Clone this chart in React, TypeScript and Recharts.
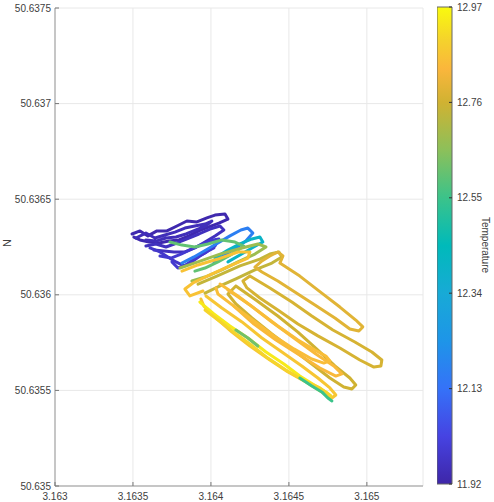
import React from "react";
import {
  ScatterChart,
  Scatter,
  XAxis,
  YAxis,
  CartesianGrid,
  BarChart,
  Bar,
} from "recharts";

// temperature colour scale (parula-like)
const T_MIN = 11.92;
const T_MAX = 12.97;
const COLORBAR_TICKS = [11.92, 12.13, 12.34, 12.55, 12.76, 12.97];
const LON_TICKS = [3.163, 3.1635, 3.164, 3.1645, 3.165];
const LAT_TICKS = [50.635, 50.6355, 50.636, 50.6365, 50.637, 50.6375];

// one entry per pass of the boat: mean temperature, then the positions
const TRACK_TEMP = [
  11.93, 11.95, 11.96, 11.98, 11.99, 12.17, 12.4, 12.6, 12.68, 12.86, 12.74,
  12.79, 12.77, 12.76, 12.84, 12.85, 12.87, 12.94, 12.9, 12.55, 12.62,
];

const TRACK_LON = [
  [3.163494, 3.163545, 3.163596, 3.163654, 3.163718, 3.163782, 3.163846, 3.16391, 3.163974, 3.164026, 3.16409, 3.164109, 3.164051, 3.163987, 3.163923, 3.163859, 3.163795, 3.163731, 3.163667, 3.163603, 3.163545, 3.163506],
  [3.163519, 3.163583, 3.163641, 3.163705, 3.163769, 3.163833, 3.163897, 3.163962, 3.164006, 3.163968, 3.163904, 3.16384, 3.163776, 3.163712, 3.163647, 3.163583],
  [3.163583, 3.163647, 3.163712, 3.163782, 3.163859, 3.163923, 3.163994, 3.164058, 3.164083, 3.164026, 3.163962, 3.163897, 3.163833, 3.163763, 3.163699, 3.163635],
  [3.163609, 3.163673, 3.163724, 3.163776, 3.163827, 3.163878, 3.163929, 3.163981, 3.164019],
  [3.163673, 3.163744, 3.163808, 3.163878, 3.163949, 3.164013, 3.164051, 3.164026, 3.163962, 3.163891, 3.163833, 3.163788, 3.16375],
  [3.163814, 3.163891, 3.163968, 3.164045, 3.164122, 3.164192, 3.164237, 3.164269, 3.164224, 3.16416, 3.16409, 3.164019],
  [3.164026, 3.164109, 3.164186, 3.164263, 3.164314, 3.164333, 3.164263, 3.164186, 3.164109],
  [3.163737, 3.163814, 3.163897, 3.163981, 3.16407, 3.164154, 3.164211, 3.164135, 3.164045, 3.163962, 3.163897],
  [3.163801, 3.163917, 3.164058, 3.164199, 3.164301, 3.164353, 3.164282, 3.164173, 3.16407, 3.163962, 3.163878],
  [3.163814, 3.163917, 3.164045, 3.164173, 3.16425, 3.164237, 3.164122, 3.163994, 3.163885, 3.163833, 3.163865, 3.163949],
  [3.163917, 3.164038, 3.164186, 3.164314, 3.164378, 3.164436, 3.164455, 3.164391, 3.164282, 3.16416, 3.164045, 3.163962],
  [3.164378, 3.164429, 3.164462, 3.164442, 3.16457, 3.164711, 3.164827, 3.164929, 3.164974, 3.164949, 3.164891, 3.164795, 3.164667, 3.164538, 3.164429, 3.164327, 3.164282, 3.164327, 3.164378],
  [3.16425, 3.164378, 3.164519, 3.164647, 3.164782, 3.164923, 3.165032, 3.165096, 3.16509, 3.165045, 3.164955, 3.164827, 3.164686, 3.164558, 3.164429, 3.164314, 3.164231, 3.164205, 3.16425],
  [3.16416, 3.164288, 3.164429, 3.164558, 3.164686, 3.164795, 3.164891, 3.164929, 3.164904, 3.164852, 3.164763, 3.164647, 3.164519, 3.164391, 3.164263, 3.16416, 3.164109, 3.16416],
  [3.164109, 3.16425, 3.164391, 3.164532, 3.164673, 3.164788, 3.16484, 3.164801, 3.164699, 3.164558, 3.164417, 3.164276, 3.164147],
  [3.164058, 3.164173, 3.164301, 3.164429, 3.164558, 3.164667, 3.164737, 3.164763, 3.164724, 3.164647, 3.164532, 3.164404, 3.164276, 3.164147, 3.164045, 3.164032],
  [3.163968, 3.16407, 3.164199, 3.164327, 3.164455, 3.164583, 3.164686, 3.164763, 3.164801, 3.164776, 3.164711, 3.164609, 3.164494, 3.164378, 3.16425, 3.164135, 3.164032, 3.163955, 3.163936],
  [3.163929, 3.164019, 3.164122, 3.164237, 3.164353, 3.164468, 3.16457, 3.164673, 3.164737, 3.164769],
  [3.164769, 3.164699, 3.16459, 3.164481, 3.164365, 3.16425, 3.164147, 3.164045, 3.163962],
  [3.16457, 3.164647, 3.164711, 3.16475, 3.164776],
  [3.16416, 3.164237, 3.164301],
];

const TRACK_LAT = [
  [50.636318, 50.636334, 50.636308, 50.636334, 50.636334, 50.63636, 50.636386, 50.636381, 50.636402, 50.636417, 50.636423, 50.636396, 50.636375, 50.636355, 50.636334, 50.636308, 50.636287, 50.636281, 50.636271, 50.636276, 50.636287, 50.636302],
  [50.636297, 50.636323, 50.636297, 50.636313, 50.636328, 50.636349, 50.63636, 50.63637, 50.636386, 50.63636, 50.636339, 50.636318, 50.636302, 50.636297, 50.636281, 50.636287],
  [50.636255, 50.636266, 50.63625, 50.636271, 50.636297, 50.636318, 50.636344, 50.63636, 50.636339, 50.636308, 50.636276, 50.636245, 50.636224, 50.636224, 50.636229, 50.636234],
  [50.636245, 50.636224, 50.636198, 50.636172, 50.636151, 50.636172, 50.636203, 50.636229, 50.636245],
  [50.636203, 50.636192, 50.636213, 50.63624, 50.636266, 50.636287, 50.636292, 50.636255, 50.636219, 50.636187, 50.636151, 50.63614, 50.636172],
  [50.636166, 50.636198, 50.636234, 50.636271, 50.636308, 50.636339, 50.636349, 50.636323, 50.636281, 50.636245, 50.636208, 50.636172],
  [50.636192, 50.636234, 50.636266, 50.636292, 50.636302, 50.636276, 50.636245, 50.636208, 50.636172],
  [50.636276, 50.63626, 50.63625, 50.636266, 50.636287, 50.636276, 50.636255, 50.636213, 50.636172, 50.63614, 50.636124],
  [50.63614, 50.636172, 50.636213, 50.636245, 50.636266, 50.63625, 50.636213, 50.636172, 50.63613, 50.636093, 50.636072],
  [50.636124, 50.636156, 50.636187, 50.636224, 50.636224, 50.636192, 50.636151, 50.636104, 50.636062, 50.63603, 50.635994, 50.63602],
  [50.636056, 50.636098, 50.636151, 50.636187, 50.636213, 50.636224, 50.636198, 50.636166, 50.63613, 50.636083, 50.636041, 50.636009],
  [50.636203, 50.636224, 50.636203, 50.636166, 50.636098, 50.636009, 50.635936, 50.635868, 50.635832, 50.635811, 50.635821, 50.635879, 50.635947, 50.636015, 50.636072, 50.636119, 50.636145, 50.636177, 50.636203],
  [50.636098, 50.636036, 50.635962, 50.635889, 50.635816, 50.635753, 50.635701, 50.635659, 50.635628, 50.635622, 50.635659, 50.635722, 50.635785, 50.635847, 50.63592, 50.635983, 50.636036, 50.636072, 50.636098],
  [50.636046, 50.635973, 50.635889, 50.635805, 50.635711, 50.635628, 50.635565, 50.635528, 50.635507, 50.635518, 50.635565, 50.635638, 50.635717, 50.635795, 50.635879, 50.635952, 50.636004, 50.636046],
  [50.636025, 50.635947, 50.635858, 50.635774, 50.63569, 50.635628, 50.635586, 50.635575, 50.635617, 50.63569, 50.635764, 50.635847, 50.635941],
  [50.636056, 50.635994, 50.635915, 50.635837, 50.635764, 50.635711, 50.63568, 50.635654, 50.635643, 50.635664, 50.635717, 50.635785, 50.635863, 50.635941, 50.636004, 50.636036],
  [50.635994, 50.635931, 50.635858, 50.635774, 50.635701, 50.635628, 50.635565, 50.635513, 50.635476, 50.63546, 50.635492, 50.635544, 50.635596, 50.635659, 50.635732, 50.635805, 50.635879, 50.635941, 50.635978],
  [50.635962, 50.6359, 50.635837, 50.635774, 50.635701, 50.635638, 50.635575, 50.635523, 50.635492, 50.635471],
  [50.635471, 50.635513, 50.635554, 50.635607, 50.635669, 50.635743, 50.635805, 50.635868, 50.63592],
  [50.635565, 50.635523, 50.635492, 50.63546, 50.635445],
  [50.635816, 50.635774, 50.635732],
];

const PARULA = [
  [0.0, [62, 38, 168]],
  [0.1, [70, 67, 226]],
  [0.2, [53, 114, 248]],
  [0.3, [30, 149, 232]],
  [0.4, [24, 170, 214]],
  [0.5, [0, 186, 186]],
  [0.6, [59, 195, 138]],
  [0.7, [140, 192, 90]],
  [0.8, [208, 178, 50]],
  [0.87, [250, 182, 60]],
  [0.93, [245, 210, 44]],
  [1.0, [249, 250, 14]],
] as [number, number[]][];

function parula(t: number) {
  const f = Math.max(0, Math.min(1, (t - T_MIN) / (T_MAX - T_MIN)));
  for (let i = 1; i < PARULA.length; i++) {
    const [p1, c1] = PARULA[i];
    const [p0, c0] = PARULA[i - 1];
    if (f <= p1) {
      const k = (f - p0) / (p1 - p0);
      const c = c0.map((v, j) => Math.round(v + (c1[j] - v) * k));
      return `rgb(${c[0]},${c[1]},${c[2]})`;
    }
  }
  return "rgb(249,250,14)";
}

const FONT = "'Liberation Sans', Arial, sans-serif";
const TXT = "#404040";

const noDot = () => <g />;

const XTick = ({ x, y, payload }: any) => (
  <g>
    <line x1={x} y1={y} x2={x} y2={y - 4} stroke="#777" />
    <text x={x} y={y + 14} textAnchor="middle" fontSize={10} fontFamily={FONT} fill={TXT}>
      {payload.value}
    </text>
  </g>
);

const YTick = ({ x, y, payload }: any) => (
  <g>
    <line x1={x} y1={y} x2={x + 4} y2={y} stroke="#777" />
    <text x={x - 4} y={y + 3.5} textAnchor="end" fontSize={10} fontFamily={FONT} fill={TXT}>
      {payload.value}
    </text>
  </g>
);

const CTick = ({ x, y, payload }: any) => (
  <g>
    <line x1={x - 3} y1={y} x2={x} y2={y} stroke="#333" />
    <text x={x + 5} y={y + 3.5} textAnchor="start" fontSize={10} fontFamily={FONT} fill={TXT}>
      {payload.value.toFixed(2)}
    </text>
  </g>
);

export default function App() {
  const tracks = TRACK_TEMP.map((temp, i) => ({
    temp,
    color: parula(temp),
    points: TRACK_LON[i].map((x, j) => ({ x, y: TRACK_LAT[i][j] })),
  }));

  const barData = [{ name: "T", range: [T_MIN, T_MAX] }];

  return (
    <div style={{ position: "absolute", left: 0, top: 0, width: 494, height: 502, background: "#fff" }}>
      <ScatterChart width={494} height={502} margin={{ top: 8, right: 71, bottom: 0, left: 0 }}>
        <CartesianGrid stroke="#e8e8e8" strokeWidth={1} />
        <XAxis
          type="number"
          dataKey="x"
          domain={[3.163, 3.16536]}
          ticks={LON_TICKS}
          allowDataOverflow
          height={16}
          interval={0}
          tickSize={0}
          tickMargin={0}
          axisLine={{ stroke: "#999" }}
          tickLine={false}
          tick={(p: any) => <XTick {...p} />}
        />
        <YAxis
          type="number"
          dataKey="y"
          domain={[50.635, 50.6375]}
          ticks={LAT_TICKS}
          allowDataOverflow
          width={55}
          interval={0}
          tickSize={0}
          tickMargin={0}
          axisLine={{ stroke: "#999" }}
          tickLine={false}
          tick={(p: any) => <YTick {...p} />}
          label={() => (
            <text x={11} y={243} transform="rotate(-90 11 243)" textAnchor="middle" fontSize={11} fontFamily={FONT} fill={TXT}>
              N
            </text>
          )}
        />
        {tracks.map((t, i) => (
          <Scatter
            key={i}
            data={t.points}
            fill={t.color}
            line={{ stroke: t.color, strokeWidth: 3, strokeLinejoin: "round", strokeLinecap: "round" }}
            shape={noDot}
            isAnimationActive={false}
          />
        ))}
      </ScatterChart>

      <div style={{ position: "absolute", left: 437, top: 0 }}>
        <BarChart width={57} height={491} data={barData} margin={{ top: 7, right: 0, bottom: 7, left: 0 }} barCategoryGap={0}>
          <defs>
            <linearGradient id="parulaBar" x1="0" y1="0" x2="0" y2="1">
              {PARULA.slice()
                .reverse()
                .map(([p, c], i) => (
                  <stop key={i} offset={`${(1 - p) * 100}%`} stopColor={`rgb(${c[0]},${c[1]},${c[2]})`} />
                ))}
            </linearGradient>
          </defs>
          <XAxis dataKey="name" hide />
          <YAxis
            orientation="right"
            type="number"
            domain={[T_MIN, T_MAX]}
            ticks={COLORBAR_TICKS}
            width={42}
            interval={0}
            tickSize={0}
            tickMargin={0}
            axisLine={false}
            tickLine={false}
            tick={(p: any) => <CTick {...p} />}
            label={() => (
              <text x={45} y={245} transform="rotate(90 45 245)" textAnchor="middle" fontSize={10} fontFamily={FONT} fill={TXT}>
                Temperature
              </text>
            )}
          />
          <Bar dataKey="range" fill="url(#parulaBar)" stroke="#666" strokeWidth={1} isAnimationActive={false} />
        </BarChart>
      </div>
    </div>
  );
}
